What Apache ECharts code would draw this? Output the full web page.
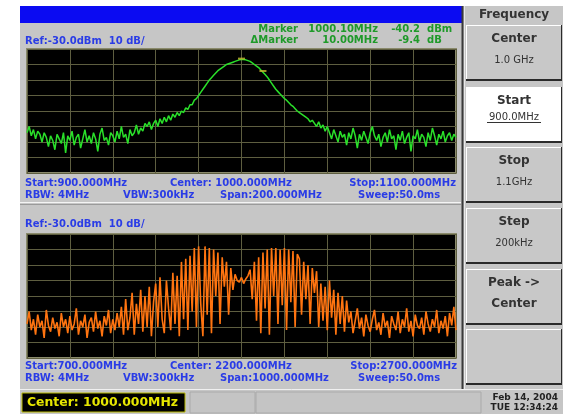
<!DOCTYPE html>
<html><head><meta charset="utf-8">
<script src="https://cdn.jsdelivr.net/npm/echarts@6/dist/echarts.min.js"></script>
<style>html,body{margin:0;padding:0;background:#fff}#c{width:563px;height:416px}</style>
</head><body><div id="c"></div>
<script>
// ---- Data ----
// Upper trace: 900..1100 MHz, 1 MHz per point, dBm
const upperStart = 900, upperStep = 1;
const upperLevels = [
-84,-80,-86,-82,-88,-83,-85,-90,-84,-87,
-93,-86,-89,-95,-85,-88,-91,-84,-97,-86,
-89,-83,-92,-87,-85,-94,-88,-82,-90,-86,
-91,-84,-88,-96,-85,-81,-89,-87,-92,-84,
-86,-90,-83,-88,-80,-87,-85,-91,-82,-86,
-84,-79,-85,-81,-83,-78,
-80,-77,-82,-78,-76,-80,-75,-78,-74,-77,
-73,-76,-72,-74,-71,-73,-70,-71,-68,-69,
-66,-66,-63,-62,-60,
-58,-56,-54,-52,-50,-48.5,-47,-45.5,-44,-43,
-42,-41,-40,-39.5,-39,-38.5,-38,-37.5,-37,-36.8,
-36.8,-37,-37.5,-38,-39,-40,-41,-42,-43.5,-45,
-46.5,-48,-50,-52,-54,-56,-57.5,-59,-60.5,-62,
-63,-64.5,-66,-67,-68.5,-70,-71,-72,-73,-74,
-75,-77,-76,-78,-80,-77,-81,-79,-83,-80,
-84,-88,-82,-86,-90,-83,-87,-85,-92,-84,
-88,-81,-86,-94,-85,-89,-83,-87,-91,-84,
-80,-86,-89,-85,-93,-87,-84,-90,-82,-88,
-86,-95,-85,-89,-83,-91,-87,-84,-96,-86,
-88,-82,-90,-85,-87,-93,-84,-89,-81,-86,
-92,-85,-88,-83,-90,-86,-84,-89,-85,-87
];
// Lower trace: 700..2700 MHz, 10 MHz per point, dBm
const lowerStart = 700, lowerStep = 10;
const lowerLevels = [
-88,-80,-92,-85,-95,-82,-90,-86,-97,-79,
-89,-93,-84,-91,-87,-96,-81,-90,-85,-94,
-83,-92,-88,-78,-95,-86,-90,-82,-97,-87,
-84,-93,-80,-91,-86,-96,-83,-89,-79,-94,
-85,-92,-81,-90,-77,-95,
-72,-92,-84,-68,-95,-75,-88,-66,-93,-70,-90,-64,-96,-74,
-62,-90,-58,-85,-94,-60,-78,-92,-55,-88,-57,
-96,-48,-85,-46,-92,-44,-80,
-39,-90,-38,-75,-96,-38,-82,-39,-94,-40,
-70,-42,-88,-45,-64,-48,-82,-52,-66,-56,-60,
-61,-58,-62,-59,-57,
-53,-72,-48,-86,-45,-94,-42,
-78,-40,-95,-39,-70,-39,-88,-40,-76,-39,-92,-40,-74,-41,-90,-43,
-46,-82,-48,-72,-50,-88,-52,-68,-54,-90,
-62,-86,-64,-92,-60,-84,-66,-95,-68,-88,-70,-93,-73,-87,
-80,-94,-86,-78,-91,-84,-96,-82,-89,-93,
-85,-79,-92,-87,-95,-81,-90,-86,-97,-83,
-88,-92,-80,-94,-85,-90,-78,-93,-86,-96,
-82,-89,-91,-84,-95,-80,-88,-93,-85,-90,
-79,-94,-86,-91,-83,-96,-81,-89,-77,-92
];
// Markers on upper trace (MHz, dBm as drawn)
const markerFreqs = [1000, 1010];
const markerLevels = [-36.2, -44.2];
// Vertical scale
const refLevel = -30, dbPerDiv = 10, yDivs = 8;
const xDivs = 10;

// ---- Build ----
const upperCats = upperLevels.map((_, i) => String(upperStart + i * upperStep));
const lowerCats = lowerLevels.map((_, i) => String(lowerStart + i * lowerStep));
const markerData = markerFreqs.map((f, i) => [String(f), markerLevels[i]]);

const FONT = '"DejaVu Sans", Verdana, sans-serif';
const BLUE = '#2a3ce6';
const GRN = '#1f9a2a';
const DARK = '#333333';
function txt(text, x, y, o) {
  o = o || {};
  return { type: 'text', x: x, y: y, z: 10, silent: true,
    style: { text: text, fill: o.fill || BLUE, fontSize: o.size || 10, fontWeight: o.weight || 'bold',
      fontFamily: FONT, align: o.align || 'left', verticalAlign: 'middle' } };
}
function rect(x, y, w, h, fill, o) {
  o = o || {};
  return { type: 'rect', z: o.z || 1, silent: true, shape: { x: x, y: y, width: w, height: h },
    style: { fill: fill, stroke: o.stroke || null, lineWidth: o.lw || 0 } };
}
function line(x1, y1, x2, y2, color, w) {
  return { type: 'line', z: 2, silent: true, shape: { x1: x1, y1: y1, x2: x2, y2: y2 },
    style: { stroke: color, lineWidth: w || 1 } };
}
function button(y, h, fill) {
  return [
    rect(466, y, 96, h, fill),
    line(466, y + 0.5, 562, y + 0.5, '#ffffff', 1),
    line(466.5, y, 466.5, y + h, '#ffffff', 1),
    line(466, y + h - 1, 562, y + h - 1, '#2a2a2a', 2),
    line(561.5, y, 561.5, y + h, '#2a2a2a', 1)
  ];
}

const g = [];
// white margins
g.push(rect(0, 0, 20, 416, '#ffffff'));
g.push(rect(0, 0, 563, 6, '#ffffff'));
g.push(rect(0, 414, 563, 2, '#ffffff'));
// blue title bar
g.push(rect(20, 6, 442, 17, '#0b0bf2'));
// right panel separator
g.push(line(462.5, 6, 462.5, 389, '#3a3a3a', 2));
g.push(line(464.5, 6, 464.5, 389, '#e8e8e8', 1));
// Frequency header
g.push(txt('Frequency', 514, 15, { fill: DARK, size: 12, align: 'center' }));
// buttons
const btnTops = [25, 87, 147, 208, 269, 329];
const btnH = 56;
btnTops.forEach((t, i) => g.push.apply(g, button(t, btnH, i === 1 ? '#ffffff' : '#c8c8c8')));
const btnTitles = ['Center', 'Start', 'Stop', 'Step', 'Peak ->', ''];
const btnSubs = ['1.0 GHz', '900.0MHz', '1.1GHz', '200kHz', 'Center', ''];
btnTops.forEach((t, i) => {
  if (btnTitles[i]) g.push(txt(btnTitles[i], 514, t + 14, { fill: DARK, size: 12, align: 'center' }));
  if (btnSubs[i]) g.push(txt(btnSubs[i], 514, t + (i === 1 ? 30 : 35), { fill: DARK, size: i === 4 ? 12 : 10, weight: i === 4 ? 'bold' : 'normal', align: 'center' }));
});
g.push(line(487, 122.5, 541, 122.5, DARK, 1));

// upper labels
g.push(txt('Ref:-30.0dBm  10 dB/', 25, 41));
g.push(txt('Marker', 298, 29, { fill: GRN, align: 'right' }));
g.push(txt('\u0394Marker', 298, 40, { fill: GRN, align: 'right' }));
g.push(txt('1000.10MHz', 378, 29, { fill: GRN, align: 'right' }));
g.push(txt('10.00MHz', 378, 40, { fill: GRN, align: 'right' }));
g.push(txt('-40.2', 420, 29, { fill: GRN, align: 'right' }));
g.push(txt('-9.4', 420, 40, { fill: GRN, align: 'right' }));
g.push(txt('dBm', 427, 29, { fill: GRN }));
g.push(txt('dB', 427, 40, { fill: GRN }));
g.push(txt('Start:900.000MHz', 25, 183));
g.push(txt('Center: 1000.000MHz', 170, 183));
g.push(txt('Stop:1100.000MHz', 456, 183, { align: 'right' }));
g.push(txt('RBW: 4MHz', 25, 195));
g.push(txt('VBW:300kHz', 123, 195));
g.push(txt('Span:200.000MHz', 220, 195));
g.push(txt('Sweep:50.0ms', 358, 195));
// separator
g.push(line(20, 202.5, 461, 202.5, '#f4f4f4', 1));
g.push(line(20, 204.5, 461, 204.5, '#9a9a9a', 1));
// lower labels
g.push(txt('Ref:-30.0dBm  10 dB/', 25, 224));
g.push(txt('Start:700.000MHz', 25, 366));
g.push(txt('Center: 2200.000MHz', 170, 366));
g.push(txt('Stop:2700.000MHz', 457, 366, { align: 'right' }));
g.push(txt('RBW: 4MHz', 25, 378));
g.push(txt('VBW:300kHz', 123, 378));
g.push(txt('Span:1000.000MHz', 220, 378));
g.push(txt('Sweep:50.0ms', 358, 378));
// status bar
g.push(line(20, 389.5, 563, 389.5, '#f0f0f0', 1));
g.push(rect(22, 393, 163, 19, '#000000', { stroke: '#b8b800', lw: 1 }));
g.push(txt('Center: 1000.000MHz', 27, 403, { fill: '#e6e600', size: 12.4 }));
g.push(rect(190, 392, 65, 21, '#c4c4c4', { stroke: '#aaaaaa', lw: 1 }));
g.push(rect(256, 392, 225, 21, '#c4c4c4', { stroke: '#aaaaaa', lw: 1 }));
g.push(txt('Feb 14, 2004', 558, 398, { fill: '#222', size: 9, align: 'right' }));
g.push(txt('TUE 12:34:24', 558, 408, { fill: '#222', size: 9, align: 'right' }));

function axisPair(gi, cats) {
  return {
    x: { type: 'category', gridIndex: gi, data: cats, boundaryGap: false,
      axisLine: { show: false }, axisTick: { show: false }, axisLabel: { show: false },
      splitLine: { show: true, interval: (cats.length - 1) / xDivs - 1, lineStyle: { color: '#5e5e40', width: 1 } } },
    y: { type: 'value', gridIndex: gi, min: refLevel - dbPerDiv * yDivs, max: refLevel, interval: dbPerDiv,
      axisLine: { show: false }, axisTick: { show: false }, axisLabel: { show: false },
      splitLine: { show: true, lineStyle: { color: '#5e5e40', width: 1 } } }
  };
}
const a0 = axisPair(0, upperCats), a1 = axisPair(1, lowerCats);

const chart = echarts.init(document.getElementById('c'), null, { renderer: 'canvas' });
chart.setOption({
  backgroundColor: '#c6c6c6',
  animation: false,
  grid: [
    { left: 27, top: 49, width: 429, height: 124, show: true, backgroundColor: '#000', borderColor: '#8a8a6c', borderWidth: 2 },
    { left: 27, top: 234, width: 429, height: 124, show: true, backgroundColor: '#000', borderColor: '#8a8a6c', borderWidth: 2 }
  ],
  xAxis: [a0.x, a1.x],
  yAxis: [a0.y, a1.y],
  graphic: { elements: g },
  series: [
    { type: 'line', xAxisIndex: 0, yAxisIndex: 0, data: upperLevels, showSymbol: false,
      lineStyle: { color: '#2ae02a', width: 1.5 }, z: 5 },
    { type: 'scatter', xAxisIndex: 0, yAxisIndex: 0, data: markerData, symbol: 'rect', symbolSize: [7, 2],
      itemStyle: { color: '#c8b830' }, z: 6 },
    { type: 'line', xAxisIndex: 1, yAxisIndex: 1, data: lowerLevels, showSymbol: false,
      lineStyle: { color: '#ff7410', width: 1.6 }, z: 5 }
  ]
});
</script></body></html>
